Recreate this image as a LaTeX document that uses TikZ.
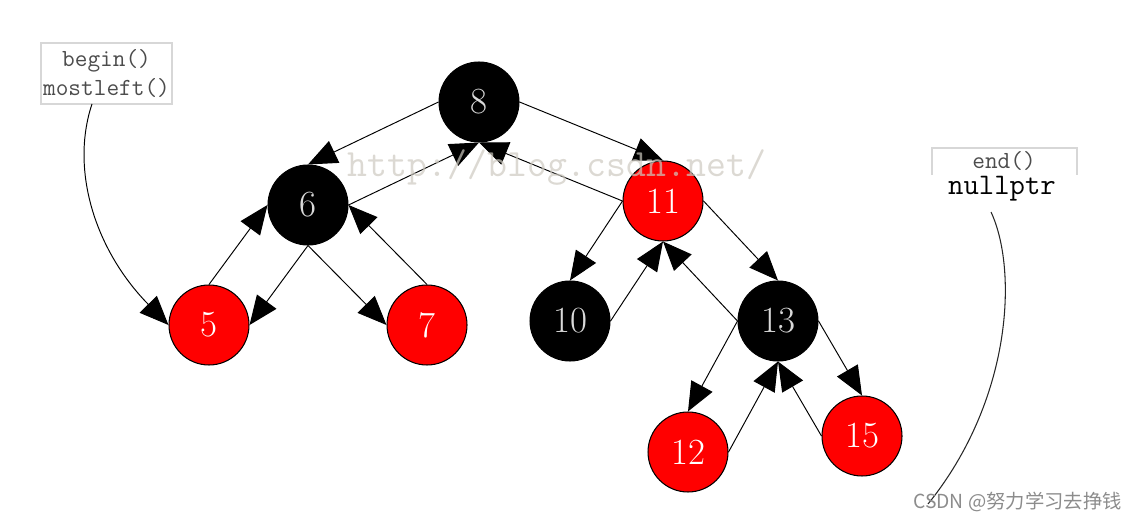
\documentclass[tikz,border=0pt]{standalone}
\usepackage{fontspec}
\newfontfamily\cjkfont{Noto Sans CJK SC}
\usetikzlibrary{arrows.meta}

\definecolor{markgrey}{RGB}{205,201,192}
\definecolor{boxgrey}{RGB}{215,215,215}

\tikzset{
  rbnode/.style={circle, draw=black, line width=0.6pt, minimum size=1.6cm,
    inner sep=0pt, font=\fontsize{21}{24}\selectfont},
  blacknode/.style={rbnode, fill=black, text=white!85!black},
  rednode/.style={rbnode, fill=red, text=white},
  link/.style={draw=black, line width=0.55pt,
    -{Triangle[length=0.58cm, width=0.48cm]}},
  pointer/.style={draw=black!85, line width=0.6pt},
  labeltext/.style={font=\ttfamily\fontsize{14}{17}\selectfont, text=black!70}
}

\begin{document}
\begin{tikzpicture}[x=0.02cm, y=-0.02cm]
    \useasboundingbox (0,0) rectangle (1141,523);

    % Define the tree nodes
    % root
    \node[blacknode] (n8) at (479,102) {8};
    % second level
    \node[blacknode] (n6) at (308,205) {6};
    \node[rednode] (n11) at (663,201) {11};
    % third level
    \node[rednode] (n5) at (209,325) {5};
    \node[rednode] (n7) at (427,325) {7};
    \node[blacknode] (n10) at (570,321) {10};
    \node[blacknode] (n13) at (778,321) {13};
    % fourth level
    \node[rednode] (n12) at (688,452) {12};
    \node[rednode] (n15) at (862,436) {15};

    % Draw the child and parent links
    \draw[link] (n8.west) -- (n6.north);
    \draw[link] (n6.east) -- (n8.south);
    \draw[link] (n8.east) -- (n11.north);
    \draw[link] (n11.west) -- (n8.south);

    \draw[link] (n6.south) -- (n5.east);
    \draw[link] (n5.north) -- (n6.west);
    \draw[link] (n6.south) -- (n7.west);
    \draw[link] (n7.north) -- (n6.east);

    \draw[link] (n11.west) -- (n10.north);
    \draw[link] (n10.east) -- (n11.south);
    \draw[link] (n11.east) -- (n13.north);
    \draw[link] (n13.west) -- (n11.south);

    \draw[link] (n13.west) -- (n12.north);
    \draw[link] (n12.east) -- (n13.south);
    \draw[link] (n13.east) -- (n15.north);
    \draw[link] (n15.west) -- (n13.south);

    % begin() label and its pointer
    \node[labeltext, draw=boxgrey, line width=0.8pt, align=center,
      minimum width=2.62cm, minimum height=1.22cm, inner sep=0pt]
      (beginlbl) at (106.5,73.5) {begin()\\mostleft()};
    \coordinate (bstart) at (92,104);
    \draw[link] (bstart) .. controls (70,170) and (95,250) .. (n5.west);

    % end() label and its pointer
    \node[labeltext, inner sep=0pt] (endlbl) at (1004,161) {end()};
    \draw[boxgrey, line width=0.8pt] (932,175) |- (1077,148) -- (1077,175);
    \node[font=\ttfamily\fontsize{17}{20}\selectfont, inner sep=0pt]
      (nulllbl) at (1002,189) {nullptr};
    \coordinate (estart) at (991,212);
    \coordinate (eend) at (928,504);
    \draw[pointer] (estart) .. controls (1018,270) and (1012,400) .. (eend);

    % watermarks
    \node[text=markgrey, opacity=0.7, font=\ttfamily\fontsize{22}{24}\selectfont]
      (mark) at (557,168) {http://blog.csdn.net/};
    \node[text=black!45, anchor=east, font=\cjkfont\fontsize{11}{13}\selectfont]
      (csdn) at (1128,502) {CSDN @努力学习去挣钱};

\end{tikzpicture}
\end{document}
